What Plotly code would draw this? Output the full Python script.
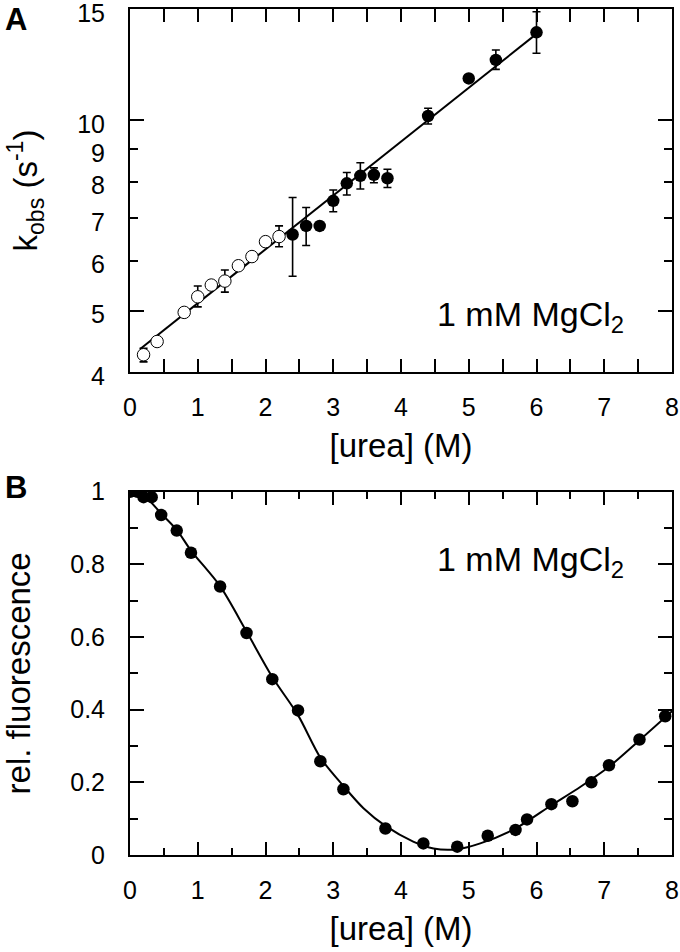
import plotly.graph_objects as go
import math

# ---------------- Panel A data ----------------
open_urea = [0.2, 0.4, 0.8, 1.0, 1.2, 1.4, 1.6, 1.8, 2.0, 2.2]
open_kobs = [4.26, 4.47, 4.97, 5.26, 5.49, 5.57, 5.89, 6.09, 6.43, 6.55]
open_err_plus = [0.10, 0, 0, 0.21, 0.06, 0.23, 0, 0, 0, 0.26]
open_err_minus = [0.11, 0, 0, 0.19, 0.06, 0.22, 0, 0, 0, 0.24]

filled_urea = [2.4, 2.6, 2.8, 3.0, 3.2, 3.4, 3.6, 3.8, 4.4, 5.0, 5.4, 6.0]
filled_kobs = [6.60, 6.81, 6.81, 7.46, 7.95, 8.17, 8.20, 8.10, 10.16, 11.65, 12.46, 13.78]
filled_err_plus = [0.95, 0.47, 0.06, 0.30, 0.32, 0.40, 0.21, 0.27, 0.29, 0, 0.46, 1.07]
filled_err_minus = [0.93, 0.47, 0.06, 0.29, 0.33, 0.38, 0.23, 0.27, 0.29, 0, 0.42, 1.01]

fitA_urea = [0.15, 6.0]
fitA_kobs = [4.35, 13.7]

yA_ticks = [4, 5, 6, 7, 8, 9, 10, 15]
yA_major = [5, 10]

# ---------------- Panel B data ----------------
fl_urea = [0, 0.11, 0.2, 0.32, 0.46, 0.69, 0.90, 1.33, 1.72, 2.10, 2.48, 2.81, 3.15,
           3.77, 4.33, 4.83, 5.28, 5.69, 5.86, 6.22, 6.53, 6.81, 7.07, 7.52, 7.90]
fl_rel = [1.0, 1.0, 0.985, 0.985, 0.936, 0.893, 0.832, 0.739, 0.611, 0.484, 0.398, 0.258, 0.181,
          0.073, 0.032, 0.023, 0.053, 0.069, 0.098, 0.140, 0.148, 0.200, 0.247, 0.318, 0.382]

fitB_urea = [0, 0.2, 0.46, 0.69, 0.9, 1.33, 1.72, 2.1, 2.48, 2.81, 3.15, 3.45, 3.77,
             4.18, 4.48, 4.83, 5.17, 5.69, 6.22, 6.65, 7.07, 7.52, 8.0]
fitB_rel = [1.0, 0.99, 0.94, 0.895, 0.838, 0.74, 0.615, 0.49, 0.385, 0.268, 0.19, 0.128, 0.08,
            0.037, 0.018, 0.016, 0.032, 0.073, 0.137, 0.188, 0.243, 0.316, 0.396]

FONT = "Liberation Sans, Arial, Helvetica, sans-serif"
BLACK = "#000000"

fig = go.Figure()

# Panel A
fig.add_trace(go.Scatter(x=fitA_urea, y=fitA_kobs, mode="lines",
                         line=dict(color=BLACK, width=2), xaxis="x", yaxis="y",
                         showlegend=False, hoverinfo="skip"))
fig.add_trace(go.Scatter(x=open_urea, y=open_kobs, mode="markers",
                         marker=dict(size=12.5, color="white", line=dict(color=BLACK, width=1)),
                         error_y=dict(type="data", symmetric=False, array=open_err_plus,
                                      arrayminus=open_err_minus, color=BLACK, thickness=1.6, width=4),
                         xaxis="x", yaxis="y", showlegend=False))
fig.add_trace(go.Scatter(x=filled_urea, y=filled_kobs, mode="markers",
                         marker=dict(size=12.5, color=BLACK),
                         error_y=dict(type="data", symmetric=False, array=filled_err_plus,
                                      arrayminus=filled_err_minus, color=BLACK, thickness=1.6, width=4),
                         xaxis="x", yaxis="y", showlegend=False))
# invisible trace to host the overlay axis with long major ticks
fig.add_trace(go.Scatter(x=[None], y=[None], xaxis="x", yaxis="y3", showlegend=False,
                         hoverinfo="skip"))

# Panel B
fig.add_trace(go.Scatter(x=fitB_urea, y=fitB_rel, mode="lines",
                         line=dict(color=BLACK, width=2, shape="spline", smoothing=0.8),
                         xaxis="x2", yaxis="y2", showlegend=False, hoverinfo="skip"))
fig.add_trace(go.Scatter(x=fl_urea, y=fl_rel, mode="markers",
                         marker=dict(size=12.5, color=BLACK),
                         xaxis="x2", yaxis="y2", showlegend=False))

tickfont = dict(family=FONT, size=25, color=BLACK)
titlefont = dict(family=FONT, size=33, color=BLACK)

xcommon = dict(range=[0, 8], tickmode="linear", tick0=0, dtick=1, ticks="inside", ticklen=13,
               tickwidth=1.6, tickcolor=BLACK, showline=True, linecolor=BLACK, linewidth=2,
               mirror="allticks", showgrid=False, zeroline=False, tickfont=tickfont,
               ticklabelstandoff=12, automargin=False, ticklabeloverflow="allow",
               minor=dict(dtick=0.5, tick0=0, ticks="inside", ticklen=7, tickwidth=1.6,
                          tickcolor=BLACK, showgrid=False),
               title=dict(text="[urea] (M)", font=titlefont, standoff=14))

logrange = [math.log10(4), math.log10(15)]

fig.update_layout(
    template="none",
    width=680, height=952,
    paper_bgcolor="white", plot_bgcolor="white",
    margin=dict(l=130, r=8, t=9, b=97, autoexpand=False),
    font=dict(family=FONT, color=BLACK),
    xaxis=dict(anchor="y", domain=[0, 1], **xcommon),
    yaxis=dict(anchor="x", domain=[0.5709, 1.0], type="log", range=logrange,
               tickmode="array", tickvals=yA_ticks, ticktext=[str(v) for v in yA_ticks],
               ticks="inside", ticklen=8, tickwidth=1.6, tickcolor=BLACK,
               showline=True, linecolor=BLACK, linewidth=2, mirror="allticks",
               showgrid=False, zeroline=False, tickfont=tickfont, ticklabelstandoff=18,
               ticklabelshift=4,
               automargin=False, ticklabeloverflow="allow",
               title=dict(text="k<sub>obs</sub> (s<sup>-1</sup>)", font=titlefont, standoff=30)),
    yaxis3=dict(anchor="x", overlaying="y", type="log", range=logrange,
                tickmode="array", tickvals=yA_major, ticks="inside", ticklen=14,
                tickwidth=1.6, tickcolor=BLACK, showticklabels=False, showline=False,
                mirror="allticks", showgrid=False, zeroline=False, automargin=False),
    xaxis2=dict(anchor="y2", domain=[0, 1], **xcommon),
    yaxis2=dict(anchor="x2", domain=[0, 0.4294], range=[0, 1], tickmode="linear", tick0=0,
                dtick=0.2, ticks="inside", ticklen=14, tickwidth=1.6, tickcolor=BLACK,
                showline=True, linecolor=BLACK, linewidth=2, mirror="allticks",
                showgrid=False, zeroline=False, tickfont=tickfont, ticklabelstandoff=18,
                tickformat="~g", automargin=False, ticklabeloverflow="allow",
                minor=dict(dtick=0.1, tick0=0, ticks="inside", ticklen=8, tickwidth=1.6,
                           tickcolor=BLACK, showgrid=False),
                title=dict(text="rel. fluorescence", font=titlefont, standoff=30)),
    annotations=[
        dict(text="1 mM MgCl<sub>2</sub>", xref="x domain", yref="y domain", x=0.562, y=0.154,
             xanchor="left", yanchor="middle", showarrow=False,
             font=dict(family=FONT, size=34, color=BLACK)),
        dict(text="1 mM MgCl<sub>2</sub>", xref="x2 domain", yref="y2 domain", x=0.562, y=0.809,
             xanchor="left", yanchor="middle", showarrow=False,
             font=dict(family=FONT, size=34, color=BLACK)),
        dict(text="<b>A</b>", xref="paper", yref="paper", x=-0.21, y=0.987,
             xanchor="center", yanchor="middle", showarrow=False,
             font=dict(family=FONT, size=31, color=BLACK)),
        dict(text="<b>B</b>", xref="paper", yref="paper", x=-0.21, y=0.434,
             xanchor="center", yanchor="middle", showarrow=False,
             font=dict(family=FONT, size=31, color=BLACK)),
    ],
)

fig.write_html("out.html", config={"displayModeBar": False},
               post_script="document.body.style.margin='0px';")
